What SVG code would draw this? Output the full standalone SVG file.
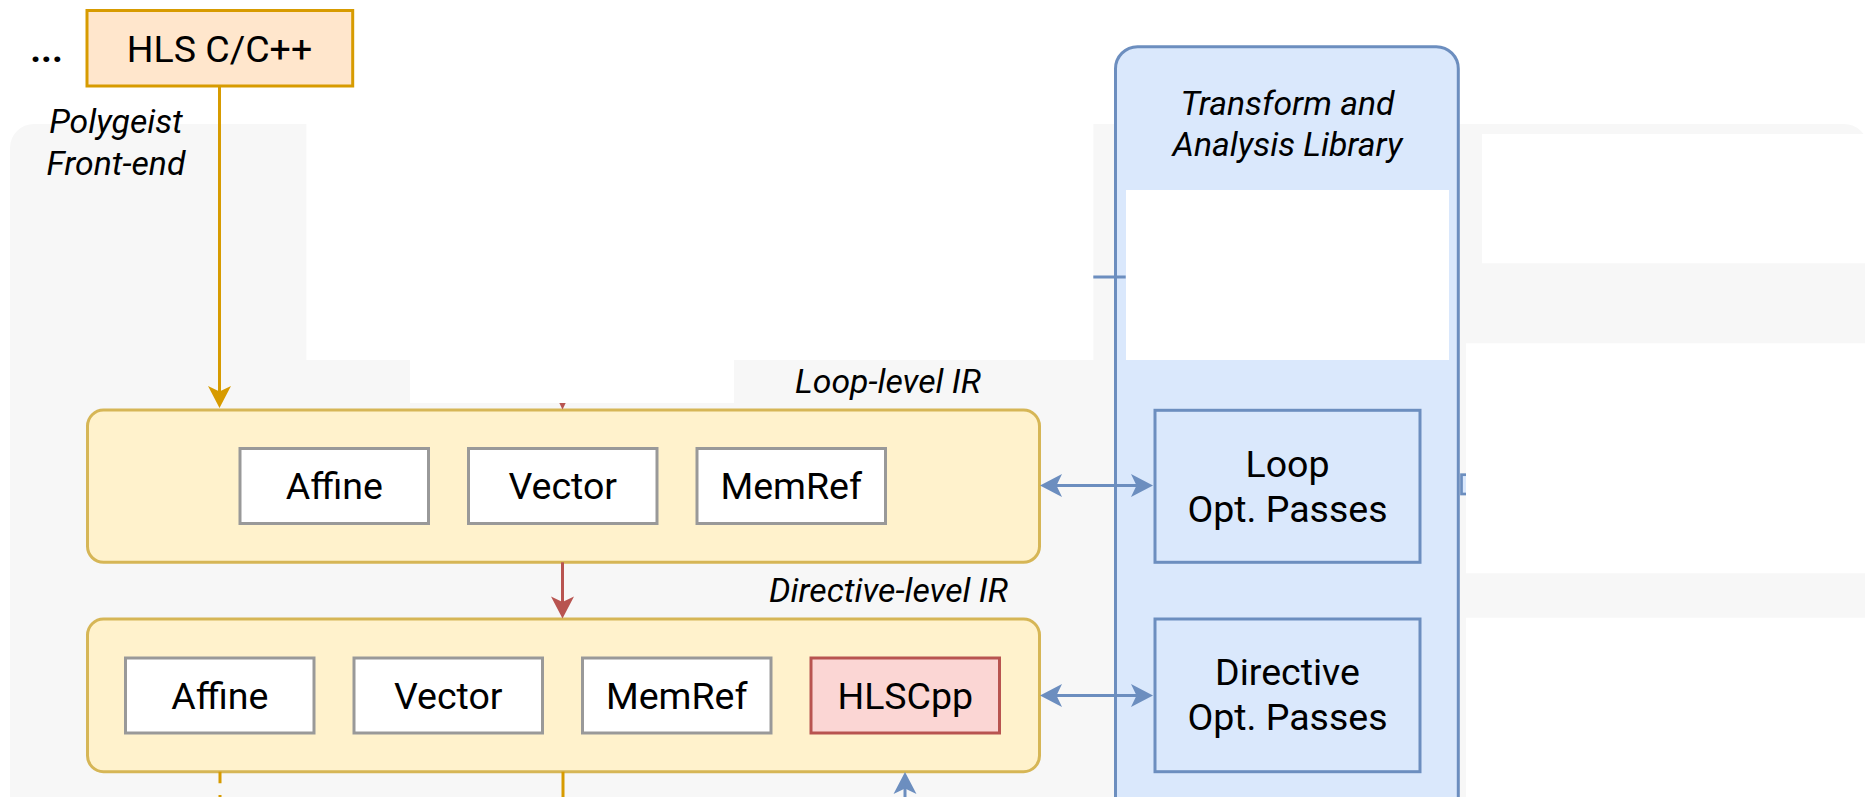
<svg xmlns="http://www.w3.org/2000/svg" width="1865" height="797" viewBox="0 0 1865 797">
  <style>
    .t { font-family: Roboto, 'Liberation Sans', sans-serif; font-size: 37.5px; fill: #000; text-anchor: middle; }
    .i { font-style: italic; font-size: 33.75px; }
    .src { fill: #ffe6cc; stroke: #d79b00; stroke-width: 3; }
    .layer { fill: #fff2cc; stroke: #d6b656; stroke-width: 3; }
    .dialect { fill: #ffffff; stroke: #999999; stroke-width: 3; }
    .hls { fill: #fbd6d4; stroke: #b85450; stroke-width: 3; }
    .lib { fill: #dae8fc; stroke: #6c8ebf; stroke-width: 3; }
    .pass { fill: #dae8fc; stroke: #6c8ebf; stroke-width: 3; }
    .blank { fill: #ffffff; stroke: none; }
    .edge { fill: none; stroke-width: 3; }
  </style>
  <defs>
    <marker id="headOrange" markerUnits="userSpaceOnUse" markerWidth="24" markerHeight="24" viewBox="-13 -12 24 24" refX="0" refY="0" orient="auto-start-reverse">
      <path d="M10,0 L-12,-11.5 L-6.5,0 L-12,11.5 Z" fill="#d79b00"/>
    </marker>
    <marker id="headRed" markerUnits="userSpaceOnUse" markerWidth="24" markerHeight="24" viewBox="-13 -12 24 24" refX="0" refY="0" orient="auto-start-reverse">
      <path d="M10,0 L-12,-11.5 L-6.5,0 L-12,11.5 Z" fill="#b85450"/>
    </marker>
    <marker id="headBlue" markerUnits="userSpaceOnUse" markerWidth="24" markerHeight="24" viewBox="-13 -12 24 24" refX="0" refY="0" orient="auto-start-reverse">
      <path d="M10,0 L-12,-11.5 L-6.5,0 L-12,11.5 Z" fill="#6c8ebf"/>
    </marker>
  </defs>

  <rect width="1865" height="797" fill="#ffffff"/>

  <!-- light grey backdrop panel -->
  <rect id="backdrop" x="10" y="124" width="1858" height="760" rx="24" fill="#f7f7f7"/>

  <!-- transform and analysis library column -->
  <g id="library">
    <rect class="lib" x="1115.5" y="46.7" width="342.8" height="800" rx="22"/>
    <text class="t i" x="1287.5" y="115">Transform and</text>
    <text class="t i" x="1287.5" y="156">Analysis Library</text>
  </g>

  <!-- blank areas of the panel -->
  <g id="blank-areas">
    <rect class="blank" x="306.4" y="120" width="787" height="240"/>
    <rect class="blank" x="410" y="359" width="324" height="44"/>
    <rect class="blank" x="1126" y="190" width="323" height="170"/>
    <rect class="blank" x="1482" y="134" width="390" height="129.3"/>
    <rect class="blank" x="1466" y="343.3" width="406" height="230"/>
    <rect class="blank" x="1466" y="617.7" width="406" height="190"/>
  </g>

  <text class="t" x="46.5" y="62" font-weight="bold">...</text>

  <g id="hls-source">
    <rect class="src" x="87" y="10.5" width="265.7" height="75.5"/>
    <text class="t" x="219.5" y="61.7">HLS C/C++</text>
  </g>

  <g id="frontend-label">
    <text class="t i" x="116" y="133.3">Polygeist</text>
    <text class="t i" x="116" y="175">Front-end</text>
  </g>

  <g id="loop-ir">
    <text class="t i" x="888" y="393.3">Loop-level IR</text>
    <rect class="layer" x="87.5" y="410" width="952" height="152.3" rx="16"/>
    <g id="loop-affine">
      <rect class="dialect" x="240" y="448.5" width="188.5" height="75"/>
      <text class="t" x="334.25" y="499">Affine</text>
    </g>
    <g id="loop-vector">
      <rect class="dialect" x="468.5" y="448.5" width="188.5" height="75"/>
      <text class="t" x="562.75" y="499">Vector</text>
    </g>
    <g id="loop-memref">
      <rect class="dialect" x="697" y="448.5" width="188.5" height="75"/>
      <text class="t" x="791.25" y="499">MemRef</text>
    </g>
  </g>

  <g id="directive-ir">
    <text class="t i" x="888.5" y="601.7">Directive-level IR</text>
    <rect class="layer" x="87.5" y="619" width="952" height="152.7" rx="16"/>
    <g id="dir-affine">
      <rect class="dialect" x="125.5" y="658" width="188.5" height="75"/>
      <text class="t" x="219.75" y="708.8">Affine</text>
    </g>
    <g id="dir-vector">
      <rect class="dialect" x="354" y="658" width="188.5" height="75"/>
      <text class="t" x="448.25" y="708.8">Vector</text>
    </g>
    <g id="dir-memref">
      <rect class="dialect" x="582.5" y="658" width="188.5" height="75"/>
      <text class="t" x="676.75" y="708.8">MemRef</text>
    </g>
    <g id="dir-hlscpp">
      <rect class="hls" x="811" y="658" width="188.5" height="75"/>
      <text class="t" x="905.25" y="708.8">HLSCpp</text>
    </g>
  </g>

  <g id="loop-passes">
    <rect class="pass" x="1155" y="410.3" width="265" height="152"/>
    <text class="t" x="1287.5" y="476.7">Loop</text>
    <text class="t" x="1287.5" y="521.7">Opt. Passes</text>
  </g>

  <g id="directive-passes">
    <rect class="pass" x="1155" y="619" width="265" height="152.7"/>
    <text class="t" x="1287.5" y="685.3">Directive</text>
    <text class="t" x="1287.5" y="730.3">Opt. Passes</text>
  </g>

  <!-- edge stub entering the library at the right -->
  <rect id="library-stub" x="1461.5" y="474.7" width="20" height="19.3" fill="#dae8fc" stroke="#6c8ebf" stroke-width="2.7"/>
  <rect class="blank" x="1466" y="470" width="20" height="30"/>

  <g id="connectors">
    <line class="edge" x1="219.5" y1="86" x2="219.5" y2="398" stroke="#d79b00" marker-end="url(#headOrange)"/>
    <polygon points="559.3,403 565.7,403 562.5,409.5" fill="#b85450"/>
    <line class="edge" x1="562.5" y1="562.3" x2="562.5" y2="608.5" stroke="#b85450" marker-end="url(#headRed)"/>
    <line class="edge" x1="1050" y1="485.5" x2="1143" y2="485.5" stroke="#6c8ebf" marker-start="url(#headBlue)" marker-end="url(#headBlue)"/>
    <line class="edge" x1="1050" y1="695.5" x2="1143" y2="695.5" stroke="#6c8ebf" marker-start="url(#headBlue)" marker-end="url(#headBlue)"/>
    <line class="edge" x1="1093.3" y1="277" x2="1125.7" y2="277" stroke="#6c8ebf" stroke-width="2.7"/>
    <line class="edge" x1="220" y1="771.7" x2="220" y2="800" stroke="#d79b00" stroke-dasharray="11.6 11.6"/>
    <line class="edge" x1="563" y1="771.7" x2="563" y2="800" stroke="#d79b00"/>
    <line class="edge" x1="905" y1="800" x2="905" y2="782" stroke="#6c8ebf" marker-end="url(#headBlue)"/>
  </g>
</svg>
